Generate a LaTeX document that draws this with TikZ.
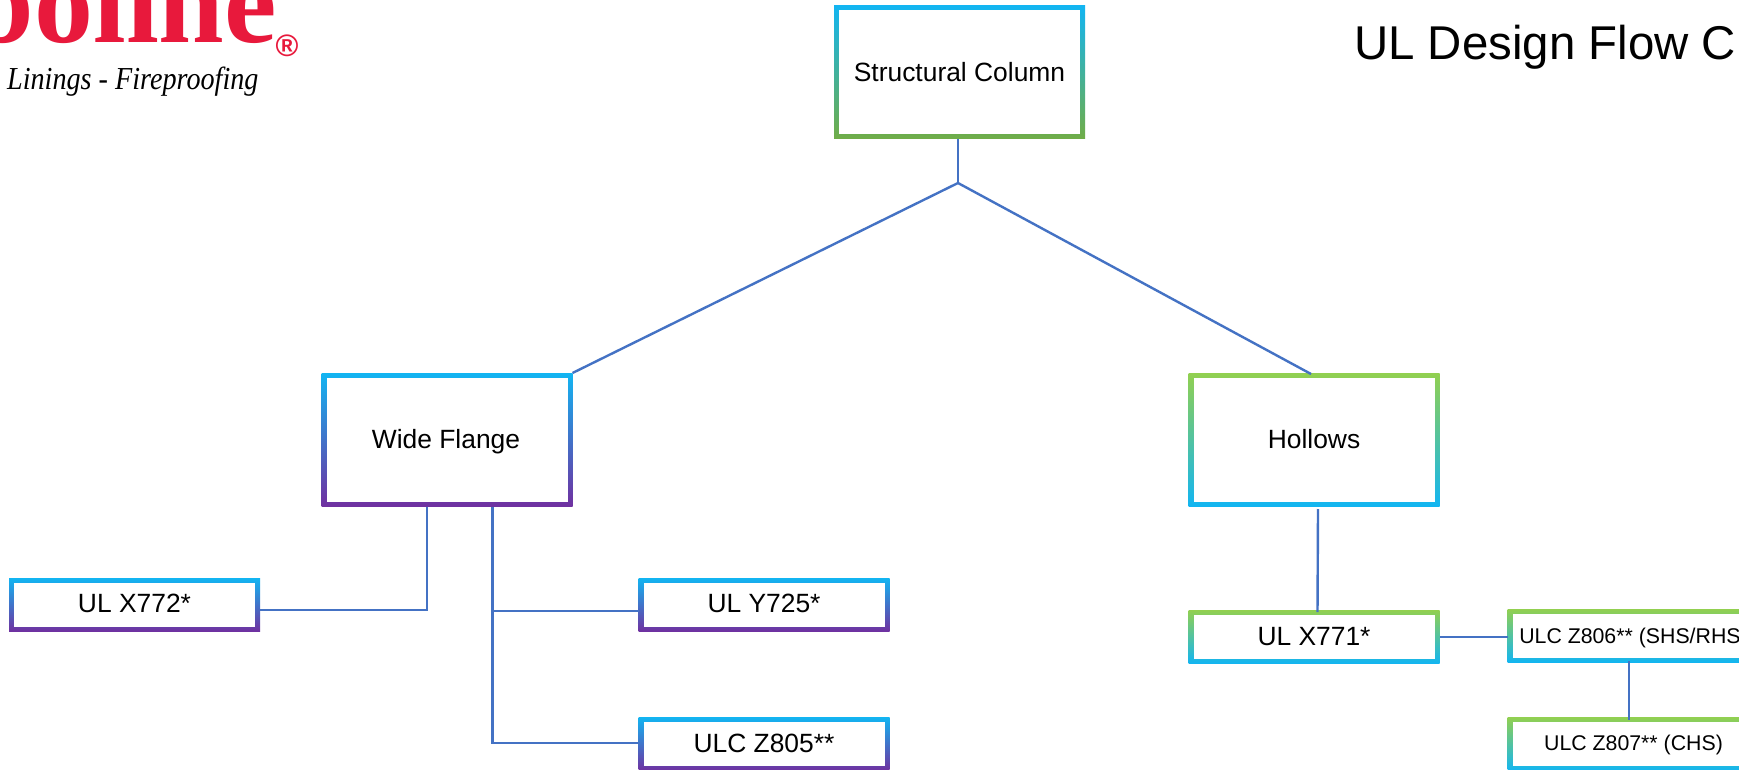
\documentclass[tikz,border=0pt]{standalone}
\usepackage{fontspec}
\setmainfont{Liberation Sans}
\newfontfamily\serifface{Liberation Serif}
\definecolor{gblue}{HTML}{12B5F2}
\definecolor{ggreen}{HTML}{92D050}
\definecolor{gdkgreen}{HTML}{70AD47}
\definecolor{gpurple}{HTML}{7030A0}
\definecolor{conn}{HTML}{4472C4}
\definecolor{logored}{HTML}{E8193C}
\tikzset{
  framebox/.style={shade,inner sep=0pt,outer sep=0pt,draw=none,anchor=north west},
  bluepurple/.style={framebox,top color=gblue,bottom color=gpurple},
  greenblue/.style={framebox,top color=ggreen,bottom color=gblue},
  bluegreen/.style={framebox,top color=gblue,bottom color=gdkgreen},
  lbl/.style={anchor=base,inner sep=0pt,font=\fontsize{26.4pt}{30pt}\selectfont,text=black},
  smalllbl/.style={anchor=base,inner sep=0pt,font=\fontsize{21.3pt}{25pt}\selectfont,text=black},
  connector/.style={draw=conn,line width=2.4pt},
}
% #1 name, #2 style, #3 x, #4 y, #5 w, #6 h
\newcommand{\gframe}[6]{%
  \node[#2,minimum width=#5pt,minimum height=#6pt] (#1) at (#3,#4) {};
  \fill[white] ([shift={(5,5)}]#1.north west) rectangle ([shift={(-5,-5)}]#1.south east);
}
\begin{document}
\begin{tikzpicture}[x=1pt,y=-1pt]
\useasboundingbox (0,0) rectangle (1739,770);
\clip (0,0) rectangle (1739,770);
\fill[white] (0,0) rectangle (1739,770);

% logo
\node[anchor=base east,inner sep=0pt,text=logored,font=\serifface\bfseries\fontsize{118pt}{118pt}\selectfont] (logo) at (277,43) {boline};
\node[anchor=center,inner sep=0pt,text=logored,font=\bfseries\fontsize{31pt}{31pt}\selectfont] (reg) at (287,46) {®};
\node[anchor=base west,inner sep=0pt,text=black,xscale=.88,font=\serifface\itshape\fontsize{32pt}{36pt}\selectfont] (tag) at (7,90) {Linings - Fireproofing};

% title
\node[anchor=base west,inner sep=0pt,font=\fontsize{47.4pt}{55pt}\selectfont] (title) at (1354,60) {UL Design Flow C};

% frames
\gframe{col}{bluegreen}{834}{5.5}{251}{133.5}
\gframe{wf}{bluepurple}{321.5}{373}{251}{133.5}
\gframe{hol}{greenblue}{1188.5}{373}{251}{133.5}
\gframe{xa}{bluepurple}{9}{578}{251}{53.5}
\gframe{ya}{bluepurple}{638.5}{578}{251}{53.5}
\gframe{zf}{bluepurple}{638.5}{717}{251}{54}
\gframe{xb}{greenblue}{1188.5}{610}{251}{53.5}
\gframe{zs}{greenblue}{1507.5}{609}{252}{53.5}
\gframe{zt}{greenblue}{1507.5}{717}{252}{54}

% labels
\node[lbl] (t0) at (959.5,82) {Structural Column};
\node[lbl] (t1) at (446,448) {Wide Flange};
\node[lbl] (t2) at (1314,448) {Hollows};
\node[lbl] (t3) at (134.5,612.5) {UL X772*};
\node[lbl] (t4) at (764,612.5) {UL Y725*};
\node[lbl] (t5) at (764,752) {ULC Z805**};
\node[lbl] (t6) at (1314,645) {UL X771*};
\node[smalllbl] (t7) at (1633.5,643) {ULC Z806** (SHS/RHS)};
\node[smalllbl] (t8) at (1633.5,750.5) {ULC Z807** (CHS)};

% connector helpers
\coordinate (apex) at (958,183);
\coordinate (elbowx) at (427,610);
\coordinate (elbowy) at (492.5,611);
\coordinate (elbowz) at (492.5,743);
\coordinate (holin) at (1311,374);
\coordinate (holbot) at (1318,509);
\coordinate (xbtop) at (1317.5,612);
\coordinate (zsbot) at (1629,661);
\coordinate (zttop) at (1629,720);

% connectors
\draw[connector] (col.south -| apex) -- (apex);
\draw[connector] (apex) -- (wf.north east);
\draw[connector] (apex) -- (holin);
\draw[connector] (wf.south -| elbowx) -- (elbowx) -- (elbowx -| xa.east);
\draw[connector] (wf.south -| elbowy) -- (elbowz) -- (elbowz -| zf.west);
\draw[connector] (elbowy) -- (elbowy -| ya.west);
\draw[connector] (holbot) -- (xbtop);
\draw[connector] (xb.east) -- (xb.east -| zs.west);
\draw[connector] (zsbot) -- (zttop);
\end{tikzpicture}
\end{document}
